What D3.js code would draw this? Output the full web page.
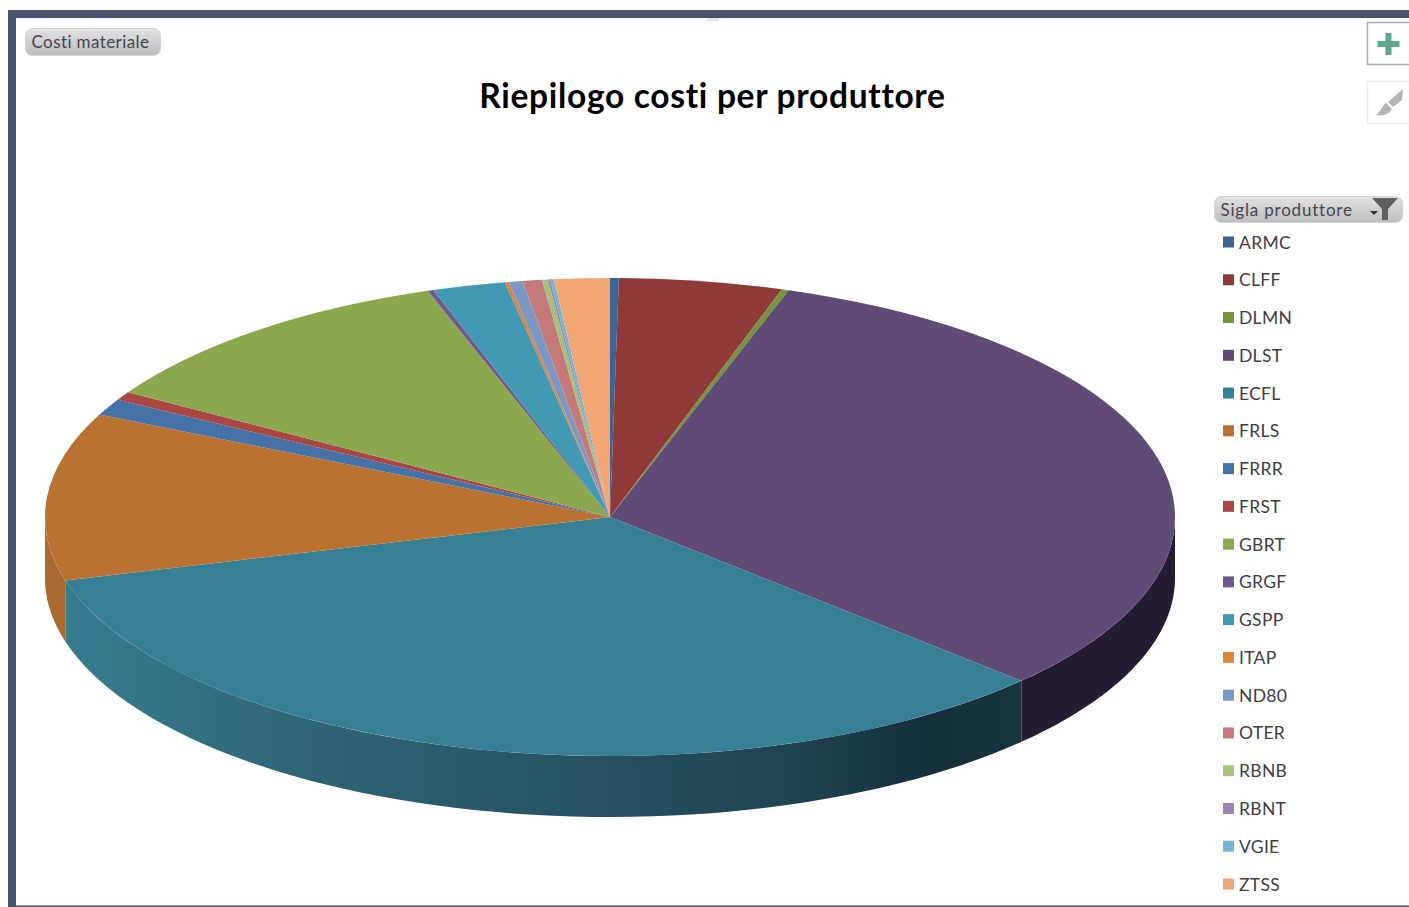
<!DOCTYPE html>
<html>
<head>
<meta charset="utf-8">
<script src="https://cdn.jsdelivr.net/npm/d3@7"></script>
<style>
html,body{margin:0;padding:0;background:#fff;overflow:hidden}
text{font-family:Lato,"Open Sans",sans-serif}
</style>
</head>
<body>
<svg id="canvas" width="1409" height="907"></svg>
<script>
// percent share of each producer
let producers=["ARMC","CLFF","DLMN","DLST","ECFL","FRLS","FRRR","FRST","GBRT","GRGF","GSPP","ITAP","ND80","OTER","RBNB","RBNT","VGIE","ZTSS"];
let shares=[0.25,4.67,0.2,31.9,33.7,11.33,1.11,0.58,11.03,0.17,2.08,0.11,0.39,0.56,0.17,0.06,0.11,1.58];
let colors=["#3a6593","#8f3a38","#77933c","#604a76","#367f95","#b97230","#4573a7","#aa4643","#8ba84f","#71588f","#4299b3","#db843d","#7d97c4","#c47a7a","#a5c17a","#9a84b5","#76b5cf","#f2a673"];
let wallColors={DLST:"#251c33",FRLS:"#a9692f"};

let canvas=d3.select("#canvas");
const cx=610,cy=517,rx=565,ry=239,depth=61;

let defs=canvas.append("defs");
let btnGrad=defs.append("linearGradient").attr("id","btn").attr("x1",0).attr("x2",0).attr("y1",0).attr("y2",1);
btnGrad.append("stop").attr("offset",0).attr("stop-color","#e2e2e2");
btnGrad.append("stop").attr("offset",1).attr("stop-color","#bdbdbd");

// shading along the front wall of the big teal slice
let wallGrad=defs.append("linearGradient").attr("id","wallTeal").attr("gradientUnits","userSpaceOnUse")
    .attr("x1",66).attr("x2",1022).attr("y1",0).attr("y2",0);
[[0,"#367b90"],[0.25,"#2f6575"],[0.5,"#275566"],[0.75,"#1f4452"],[0.9,"#14303b"],[1,"#17343f"]].forEach((s)=>{
    wallGrad.append("stop").attr("offset",s[0]).attr("stop-color",s[1]);
});

// window frame
canvas.append("rect").attr("x",707).attr("y",14).attr("width",12).attr("height",7).attr("fill","#e4e4e4");
canvas.append("rect").attr("x",8).attr("y",10).attr("width",1401).attr("height",8).attr("fill","#44546a");
canvas.append("rect").attr("x",8).attr("y",10).attr("width",8).attr("height",897).attr("fill","#44546a");
canvas.append("rect").attr("x",16).attr("y",905.5).attr("width",1393).attr("height",1.5).attr("fill","#44546a");

// title
canvas.append("text").attr("x",712.5).attr("y",108).attr("text-anchor","middle")
    .attr("font-size",33.5).attr("font-weight",700).attr("fill","#000")
    .attr("letter-spacing",0.7)
    .text("Riepilogo costi per produttore");

// field buttons
function fieldButton(x,y,w,h,label,spacing){
    canvas.append("rect").attr("x",x).attr("y",y).attr("width",w).attr("height",h).attr("rx",7)
        .attr("fill","url(#btn)").attr("stroke","#d4d4d4").attr("stroke-width",1);
    canvas.append("text").attr("x",x+6).attr("y",y+19.5).attr("font-size",17).attr("fill","#45454f")
        .attr("letter-spacing",spacing).text(label);
}
fieldButton(25.5,28.5,135,27,"Costi materiale",0.4);
fieldButton(1214.5,196.5,188,26,"Sigla produttore",0.8);
canvas.append("path").attr("d","M1372 198H1398L1388 209V220H1382V209Z").attr("fill","#5f5f5f");
canvas.append("path").attr("d","M1370 211H1378L1374 215Z").attr("fill","#333");

// side tools
canvas.append("rect").attr("x",1367.5).attr("y",22.5).attr("width",43).attr("height",42).attr("fill","#fff").attr("stroke","#adadad").attr("stroke-width",1.5);
canvas.append("path").attr("d","M1385.5 33H1391.5V41H1399.5V47H1391.5V55H1385.5V47H1377.5V41H1385.5Z").attr("fill","#5fa98b");
canvas.append("rect").attr("x",1367.5).attr("y",81.5).attr("width",43).attr("height",42).attr("fill","#fff").attr("stroke","#ececec").attr("stroke-width",1.5);
canvas.append("path").attr("d","M1403 89L1402 100L1393 107L1388 102Z M1386 103L1392 109C1389 115 1382 116 1376 115C1381 112 1381 107 1386 103Z").attr("fill","#b4b4b4");

// pie: the slices are plain d3 arcs, squashed into an ellipse
let slices=d3.pie().sort(null).value((d)=>d.share).startAngle(0).endAngle(2*Math.PI)(
    producers.map((name,i)=>({name:name,share:shares[i],color:colors[i]}))
);

// front wall of the disc, only the part between 90 and 270 degrees shows
let wallLine=d3.line();
function wallPath(a0,a1){
    let steps=d3.range(0,1.0001,1/60).map((k)=>a0+(a1-a0)*k);
    let top=steps.map((a)=>[cx+rx*Math.sin(a),cy-ry*Math.cos(a)]);
    let bottom=steps.slice().reverse().map((a)=>[cx+rx*Math.sin(a),cy-ry*Math.cos(a)+depth]);
    return wallLine(top.concat(bottom))+"Z";
}
let walls=slices.filter((s)=>s.endAngle>Math.PI/2 && s.startAngle<Math.PI*1.5);
canvas.append("g").selectAll("path").data(walls).enter().append("path")
    .attr("d",(s)=>wallPath(Math.max(s.startAngle,Math.PI/2),Math.min(s.endAngle,Math.PI*1.5)))
    .attr("fill",(s)=>s.data.name==="ECFL"?"url(#wallTeal)":(wallColors[s.data.name]||s.data.color));

let arc=d3.arc().innerRadius(0).outerRadius(rx);
canvas.append("g").attr("transform","translate("+cx+","+cy+") scale(1,"+(ry/rx)+")")
    .selectAll("path").data(slices).enter().append("path")
    .attr("d",arc)
    .attr("fill",(s)=>s.data.color);

// legend
let legendY=d3.scalePoint().domain(producers).range([242,884]);
let legend=canvas.append("g").selectAll("g").data(producers).enter().append("g")
    .attr("transform",(name)=>"translate(0,"+legendY(name)+")");
legend.append("rect").attr("x",1223).attr("y",-5.5).attr("width",11).attr("height",11)
    .attr("fill",(name,i)=>colors[i]);
legend.append("text").attr("x",1239).attr("y",6.5).attr("font-size",17.5).attr("fill","#404040")
    .attr("letter-spacing",0.3).text((name)=>name);
</script>
</body>
</html>
